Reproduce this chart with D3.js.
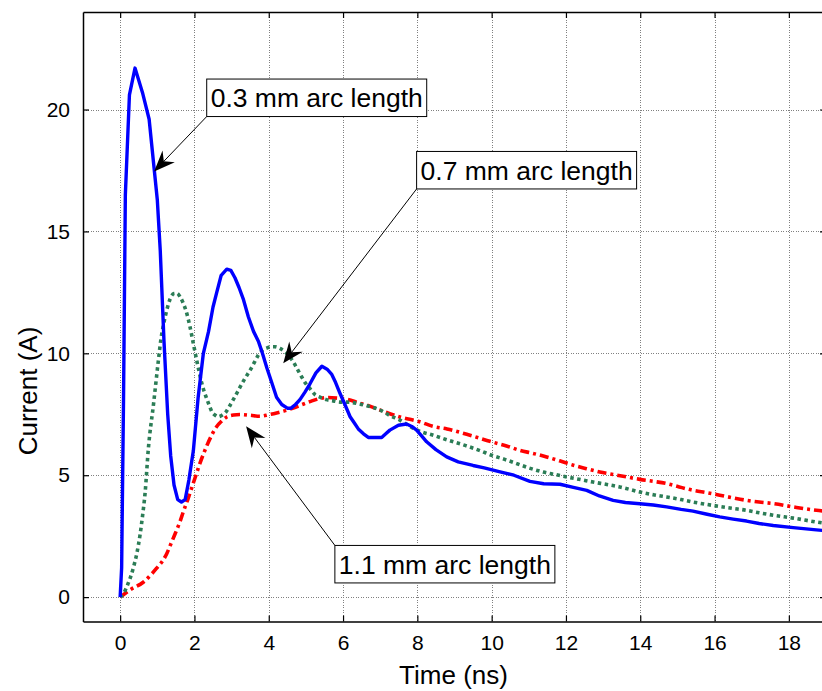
<!DOCTYPE html>
<html>
<head>
<meta charset="utf-8">
<script src="https://cdn.jsdelivr.net/npm/d3@7"></script>
<style>
  html, body { margin: 0; padding: 0; background: #fff; }
  svg { display: block; font-family: "Liberation Sans", Arial, Helvetica, sans-serif; }
</style>
</head>
<body>
<svg id="chart" width="822" height="691"></svg>
<script>
// ---------------- data ----------------
const xTicks = [0, 2, 4, 6, 8, 10, 12, 14, 16, 18];
const yTicks = [0, 5, 10, 15, 20];
const xLabel = "Time (ns)";
const yLabel = "Current (A)";

// 0.3 mm arc length  [time ns, current A]
const arc03 = [[0,0],[0.04,1.2],[0.09,8],[0.14,16.5],[0.25,20.6],[0.40,21.7],[0.60,20.7],[0.78,19.6],[0.92,17.5],[1.0,16.3],[1.08,14.2],[1.18,10.5],[1.28,7.5],[1.36,5.8],[1.45,4.6],[1.55,4.0],[1.65,3.9],[1.75,4.0],[1.85,4.8],[1.97,6.0],[2.1,8.2],[2.24,10.0],[2.38,10.9],[2.5,11.9],[2.6,12.5],[2.72,13.2],[2.87,13.45],[2.98,13.4],[3.09,13.1],[3.2,12.7],[3.32,12.2],[3.45,11.5],[3.59,10.9],[3.72,10.5],[3.83,10.0],[3.95,9.4],[4.08,8.8],[4.21,8.2],[4.35,7.9],[4.5,7.75],[4.6,7.75],[4.72,7.9],[4.84,8.1],[4.97,8.4],[5.11,8.75],[5.27,9.2],[5.43,9.47],[5.57,9.35],[5.69,9.15],[5.8,8.8],[5.92,8.35],[6.05,7.9],[6.19,7.4],[6.3,7.15],[6.41,6.9],[6.55,6.7],[6.68,6.55],[6.85,6.55],[7.04,6.55],[7.15,6.7],[7.26,6.85],[7.49,7.05],[7.71,7.1],[7.85,7.0],[7.98,6.85],[8.12,6.6],[8.25,6.37],[8.5,6.05],[8.79,5.75],[9.1,5.55],[9.5,5.4],[9.8,5.3],[10.2,5.15],[10.6,5.0],[11.03,4.75],[11.4,4.65],[11.84,4.63],[12.2,4.5],[12.56,4.38],[12.9,4.15],[13.27,3.97],[13.6,3.88],[13.99,3.83],[14.35,3.78],[14.71,3.7],[15.1,3.6],[15.42,3.53],[15.8,3.4],[16.14,3.29],[16.5,3.2],[16.86,3.12],[17.2,3.02],[17.58,2.94],[18.12,2.85],[18.74,2.76],[19,2.72]];

// 0.7 mm arc length
const arc07 = [[0,0],[0.09,0.15],[0.2,0.5],[0.36,1.23],[0.45,1.8],[0.54,2.6],[0.6,3.3],[0.67,4.25],[0.76,6.1],[0.9,7.94],[1.03,9.72],[1.1,10.6],[1.17,11.2],[1.26,11.8],[1.35,12.25],[1.45,12.45],[1.53,12.46],[1.62,12.3],[1.70,12.05],[1.8,11.6],[1.88,11.09],[1.97,10.4],[2.06,9.72],[2.2,8.76],[2.38,7.94],[2.47,7.6],[2.56,7.46],[2.65,7.4],[2.74,7.46],[2.85,7.6],[2.96,7.87],[3.1,8.25],[3.23,8.62],[3.37,9.0],[3.50,9.31],[3.62,9.65],[3.72,9.93],[3.85,10.15],[3.95,10.22],[4.06,10.27],[4.17,10.27],[4.3,10.2],[4.44,10.06],[4.55,9.88],[4.66,9.65],[4.77,9.35],[4.88,9.05],[5.0,8.75],[5.11,8.55],[5.25,8.3],[5.38,8.2],[5.55,8.1],[5.74,8.05],[5.92,8.0],[6.10,8.0],[6.37,7.95],[6.64,7.85],[7.0,7.67],[7.26,7.45],[7.53,7.26],[7.8,7.0],[8.07,6.8],[8.43,6.64],[8.8,6.45],[9.33,6.2],[9.7,6.0],[10.0,5.82],[10.35,5.65],[10.67,5.48],[11.0,5.3],[11.39,5.13],[11.7,5.03],[12.02,4.93],[12.4,4.82],[12.73,4.72],[13.1,4.62],[13.45,4.52],[13.99,4.31],[14.35,4.2],[14.71,4.11],[15.1,4.0],[15.42,3.90],[15.8,3.8],[16.14,3.72],[16.5,3.64],[16.86,3.56],[17.2,3.46],[17.58,3.36],[18.12,3.24],[18.74,3.08],[19,3.02]];

// 1.1 mm arc length
const arc11 = [[0,0],[0.27,0.3],[0.63,0.62],[0.85,0.95],[0.99,1.2],[1.15,1.5],[1.26,1.8],[1.37,2.2],[1.48,2.6],[1.6,3.05],[1.70,3.5],[1.82,4.0],[1.93,4.5],[2.04,5.0],[2.15,5.5],[2.25,5.9],[2.33,6.2],[2.45,6.6],[2.60,7.0],[2.72,7.2],[2.87,7.39],[3.05,7.47],[3.23,7.49],[3.5,7.46],[3.77,7.42],[4.0,7.48],[4.21,7.55],[4.45,7.65],[4.66,7.76],[4.9,7.9],[5.11,8.02],[5.38,8.15],[5.6,8.19],[5.92,8.15],[6.1,8.12],[6.46,7.95],[6.64,7.88],[7.0,7.67],[7.53,7.39],[8.07,7.19],[8.43,7.0],[8.8,6.9],[9.33,6.68],[10.0,6.37],[10.4,6.2],[10.76,6.02],[11.1,5.9],[11.48,5.75],[11.85,5.58],[12.2,5.41],[12.55,5.27],[12.91,5.13],[13.27,5.03],[13.63,4.93],[13.99,4.83],[14.35,4.75],[14.71,4.66],[15.05,4.52],[15.42,4.38],[15.8,4.28],[16.14,4.18],[16.5,4.07],[16.86,3.97],[17.2,3.9],[17.58,3.84],[18.12,3.70],[18.74,3.56],[19,3.52]];

// annotation texts, box anchor (top-left, data units) and arrow tip (data units)
const annoText = ["0.3 mm arc length", "0.7 mm arc length", "1.1 mm arc length"];
const annoBox  = [[2.33, 21.25], [7.98, 18.28], [5.78, 2.12]];
const annoTip  = [[0.915, 17.46], [4.39, 9.59], [3.39, 7.01]];
const annoTail = ["bottom", "bottom", "top"];

// ---------------- layout ----------------
const svg = d3.select("#chart");
const L = 83, R = 826, T = 12, B = 621.5;
const x = d3.scaleLinear().domain([-1, 19]).range([L, R]);
const y = d3.scaleLinear().domain([-1, 24]).range([B, T]);

svg.append("defs").append("clipPath").attr("id", "plotclip")
  .append("rect").attr("x", L).attr("y", T).attr("width", R - L).attr("height", B - T);

// grid
const grid = svg.append("g").attr("stroke", "#808080").attr("stroke-width", 1)
  .attr("stroke-dasharray", "1,1.5").attr("shape-rendering", "crispEdges");
grid.selectAll("line.gx").data(xTicks).join("line")
  .attr("x1", d => Math.round(x(d)) + 0.5).attr("x2", d => Math.round(x(d)) + 0.5)
  .attr("y1", T).attr("y2", B);
grid.selectAll("line.gy").data(yTicks).join("line")
  .attr("y1", d => Math.round(y(d)) + 0.5).attr("y2", d => Math.round(y(d)) + 0.5)
  .attr("x1", L).attr("x2", R);

// axes (inward ticks, MATLAB box)
const tickLen = 6;
const axB = svg.append("g").attr("transform", `translate(0,${B})`)
  .call(d3.axisBottom(x).tickValues(xTicks).tickSizeInner(-tickLen).tickSizeOuter(0).tickPadding(14));
const axT = svg.append("g").attr("transform", `translate(0,${T})`)
  .call(d3.axisTop(x).tickValues(xTicks).tickSizeInner(-tickLen).tickSizeOuter(0).tickFormat(""));
const axL = svg.append("g").attr("transform", `translate(${L},0)`)
  .call(d3.axisLeft(y).tickValues(yTicks).tickSizeInner(-tickLen).tickSizeOuter(0).tickPadding(13));
const axR = svg.append("g").attr("transform", `translate(${R},0)`)
  .call(d3.axisRight(y).tickValues(yTicks).tickSizeInner(-tickLen).tickSizeOuter(0).tickFormat(""));
[axB, axT, axL, axR].forEach(g => {
  g.selectAll(".domain").attr("stroke", "#000").attr("stroke-width", 1.5);
  g.selectAll(".tick line").attr("stroke", "#000").attr("stroke-width", 1.2);
  g.selectAll("text").attr("font-size", 21).attr("fill", "#000")
    .attr("font-family", '"Liberation Sans", Arial, sans-serif');
});

// series
const line = d3.line().x(d => x(d[0])).y(d => y(d[1]));
const lineSmooth = d3.line().x(d => x(d[0])).y(d => y(d[1])).curve(d3.curveMonotoneX);
const plot = svg.append("g").attr("clip-path", "url(#plotclip)").attr("fill", "none");
plot.append("path").datum(arc11).attr("d", lineSmooth)
  .attr("stroke", "#ff0000").attr("stroke-width", 3.6).attr("stroke-dasharray", "9,4,3,4");
plot.append("path").datum(arc07).attr("d", lineSmooth)
  .attr("stroke", "#2b7d56").attr("stroke-width", 3.6).attr("stroke-dasharray", "3.5,3.5");
plot.append("path").datum(arc03).attr("d", line)
  .attr("stroke", "#0000ff").attr("stroke-width", 3.4).attr("stroke-linejoin", "round");

// axis labels
svg.append("text").attr("x", (L + R) / 2 - 1).attr("y", 684).attr("text-anchor", "middle")
  .attr("font-size", 26).text(xLabel);
svg.append("text").attr("transform", "translate(37,391) rotate(-90)").attr("text-anchor", "middle")
  .attr("font-size", 26).text(yLabel);

// annotations
const boxW = 220, boxH = 37.5;
const anno = svg.append("g");
annoText.forEach((txt, i) => {
  const bx = x(annoBox[i][0]), by = y(annoBox[i][1]);
  const tx = x(annoTip[i][0]), ty = y(annoTip[i][1]);
  const sx = bx, sy = annoTail[i] === "bottom" ? by + boxH : by;
  const dx = tx - sx, dy = ty - sy, len = Math.hypot(dx, dy);
  const ux = dx / len, uy = dy / len, nx = -uy, ny = ux;
  const hl = 21, hw = 8.5, notch = 14;
  const bxp = tx - ux * hl, byp = ty - uy * hl;
  const nxp = tx - ux * notch, nyp = ty - uy * notch;
  anno.append("line").attr("x1", sx).attr("y1", sy).attr("x2", nxp).attr("y2", nyp)
    .attr("stroke", "#000").attr("stroke-width", 1);
  anno.append("path")
    .attr("d", `M${tx},${ty} L${bxp + nx * hw},${byp + ny * hw} L${nxp},${nyp} L${bxp - nx * hw},${byp - ny * hw} Z`)
    .attr("fill", "#000");
  anno.append("rect").attr("x", bx).attr("y", by).attr("width", boxW).attr("height", boxH)
    .attr("fill", "#fff").attr("stroke", "#000").attr("stroke-width", 1);
  anno.append("text").attr("x", bx + boxW / 2).attr("y", by + boxH / 2 + 9.5)
    .attr("text-anchor", "middle").attr("font-size", 26.5).text(txt);
});
</script>
</body>
</html>
